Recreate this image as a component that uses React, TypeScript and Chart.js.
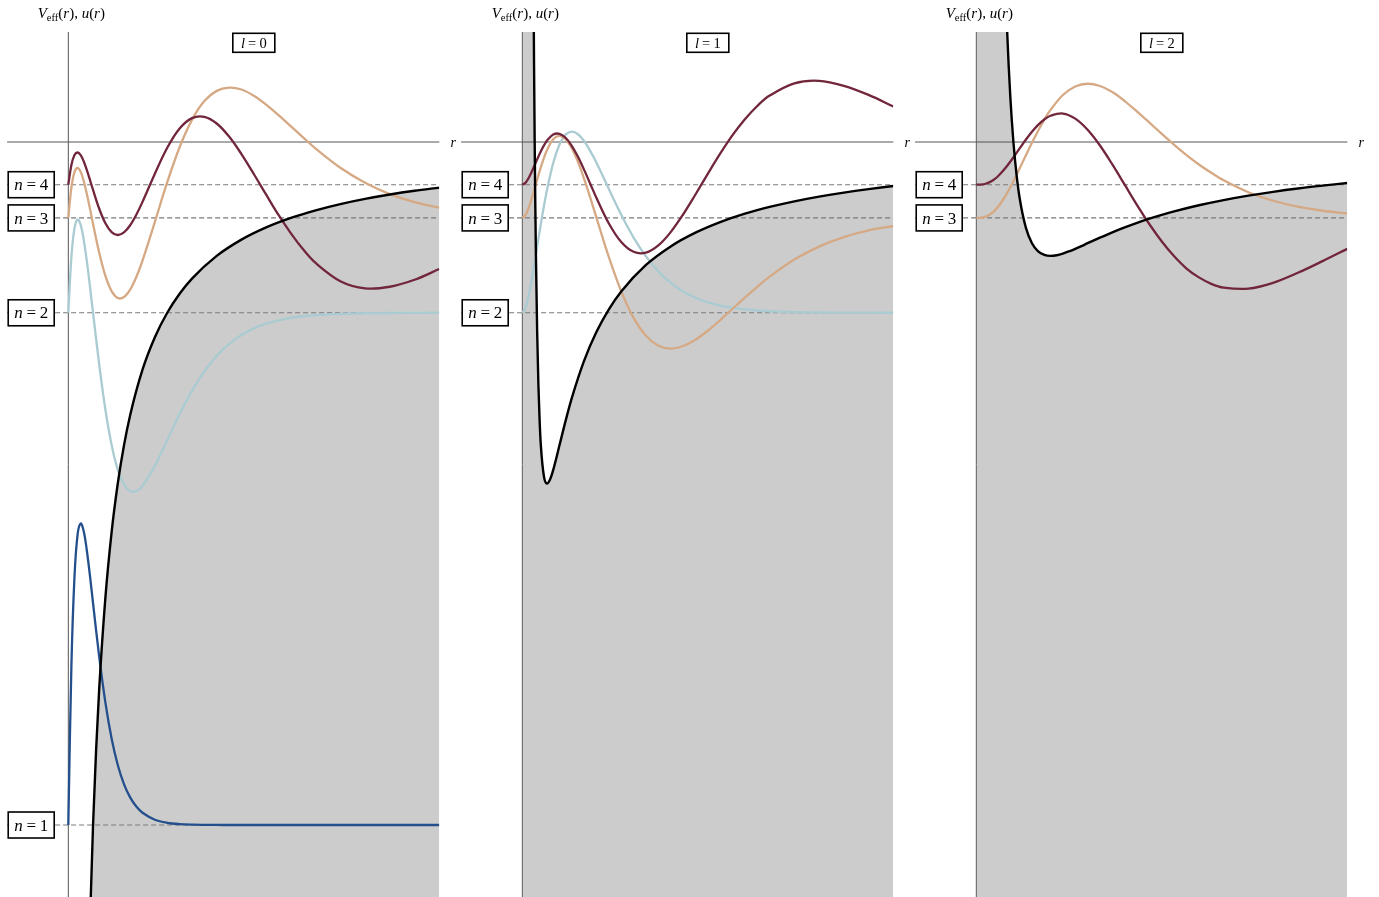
import React, { useEffect, useRef } from 'react';
import { Chart, registerables } from 'chart.js';

Chart.register(...registerables);

// ---------- data ----------
// radial positions (Bohr radii) shared by the wavefunction curves
const rGrid = [0, 0.25, 0.5, 0.75, 1, 1.25, 1.5, 1.75, 2, 2.5, 3, 3.5, 4, 4.5, 5, 5.5, 6, 7, 8, 9, 10, 11, 12, 13, 14, 15, 16, 17, 18, 19, 20, 22, 24, 26, 28, 30];

const levelN = [1, 2, 3, 4];
const levelE = [-1, -0.25, -0.1111, -0.0625];

// wavefunctions drawn on top of their energy level (l = 0)
const u10 = [-1, -0.7664, -0.6361, -0.5748, -0.5585, -0.5702, -0.5984, -0.635, -0.6753, -0.7537, -0.8207, -0.8732, -0.9121, -0.9401, -0.9596, -0.973, -0.9821, -0.9923, -0.9968, -0.9987, -0.9995, -0.9998, -0.9999, -1, -1, -1, -1, -1, -1, -1, -1, -1, -1, -1, -1, -1];
const u20 = [-0.25, -0.1681, -0.1261, -0.1133, -0.1213, -0.1435, -0.1748, -0.2113, -0.25, -0.326, -0.392, -0.4436, -0.4796, -0.5015, -0.5112, -0.5109, -0.5035, -0.4742, -0.4363, -0.3983, -0.3644, -0.3359, -0.3131, -0.2955, -0.2825, -0.2729, -0.2659, -0.261, -0.2575, -0.2551, -0.2535, -0.2516, -0.2507, -0.2503, -0.2501, -0.25];
const u30 = [-0.1111, -0.0666, -0.0441, -0.038, -0.0437, -0.0574, -0.0761, -0.0975, -0.1199, -0.1622, -0.1961, -0.2183, -0.2283, -0.227, -0.2161, -0.1976, -0.1736, -0.1169, -0.0588, -0.0076, 0.0324, 0.0599, 0.0749, 0.0797, 0.0769, 0.0679, 0.0548, 0.0393, 0.0229, 0.0066, -0.0096, -0.0377, -0.0597, -0.0763, -0.088, -0.0961];
const u40 = [-0.0625, -0.0336, -0.0191, -0.0153, -0.0193, -0.0285, -0.0411, -0.0553, -0.0701, -0.0977, -0.119, -0.1319, -0.1361, -0.1323, -0.1218, -0.1064, -0.0876, -0.0463, -0.0084, 0.0198, 0.035, 0.0369, 0.0271, 0.008, -0.0176, -0.0468, -0.0771, -0.1068, -0.1337, -0.1574, -0.1771, -0.2037, -0.2143, -0.2119, -0.2017, -0.186];
// l = 1
const u21 = [-0.25, -0.2432, -0.2262, -0.2027, -0.1757, -0.1476, -0.1198, -0.0936, -0.0698, -0.0307, -0.0041, 0.0108, 0.0151, 0.0114, 0.0014, -0.0133, -0.0304, -0.0688, -0.1066, -0.1399, -0.1675, -0.1894, -0.2063, -0.219, -0.2281, -0.2348, -0.2395, -0.2428, -0.2451, -0.2467, -0.2478, -0.249, -0.2496, -0.2498, -0.2499, -0.25];
const u31 = [-0.1111, -0.1071, -0.097, -0.0833, -0.0678, -0.0519, -0.0368, -0.0233, -0.0117, 0.0039, 0.0091, 0.0043, -0.0091, -0.0291, -0.054, -0.0819, -0.1111, -0.1686, -0.2187, -0.2575, -0.2838, -0.2984, -0.3024, -0.2986, -0.2894, -0.2762, -0.2607, -0.2441, -0.2277, -0.2121, -0.1971, -0.1721, -0.1531, -0.1392, -0.1295, -0.123];
const u41 = [-0.0625, -0.0598, -0.0531, -0.044, -0.0338, -0.0234, -0.0136, -0.005, 0.0021, 0.0109, 0.0121, 0.0063, -0.0055, -0.0217, -0.0408, -0.0614, -0.0819, -0.1192, -0.1463, -0.1607, -0.1619, -0.1514, -0.1319, -0.1061, -0.0768, -0.0465, -0.0171, 0.01, 0.0333, 0.0528, 0.068, 0.086, 0.0896, 0.0823, 0.069, 0.052];
// l = 2
const u32 = [-0.1111, -0.111, -0.1105, -0.1093, -0.1072, -0.1041, -0.1, -0.0949, -0.0889, -0.0744, -0.0574, -0.0389, -0.0198, -0.0011, 0.0166, 0.0328, 0.047, 0.0689, 0.0814, 0.0853, 0.082, 0.0732, 0.06, 0.0446, 0.0284, 0.012, -0.0041, -0.0191, -0.0329, -0.0451, -0.0561, -0.0736, -0.086, -0.0947, -0.1006, -0.1045];
const u42 = [-0.0625, -0.0624, -0.0621, -0.0611, -0.0595, -0.0571, -0.054, -0.0501, -0.0455, -0.0347, -0.0224, -0.0094, 0.0033, 0.015, 0.0251, 0.033, 0.0385, 0.0417, 0.0343, 0.018, -0.0051, -0.0328, -0.0625, -0.0923, -0.1204, -0.1456, -0.1673, -0.1852, -0.1982, -0.2076, -0.2132, -0.2147, -0.2062, -0.1915, -0.1744, -0.1564];

// effective potentials
const vR0 = [1.5, 1.75, 2, 2.25, 2.5, 3, 3.5, 4, 4.5, 5, 6, 7, 8, 9, 10, 12, 14, 16, 18, 20, 22, 24, 26, 28, 30];
const v0 = [-1.3333, -1.1429, -1, -0.8889, -0.8, -0.6667, -0.5714, -0.5, -0.4444, -0.4, -0.3333, -0.2857, -0.25, -0.2222, -0.2, -0.1667, -0.1429, -0.125, -0.1111, -0.1, -0.0909, -0.0833, -0.0769, -0.0714, -0.0667];
const vR1 = [0.05, 0.2, 0.4, 0.6, 0.8, 0.9, 0.95, 1, 1.05, 1.1, 1.2, 1.3, 1.4, 1.5, 1.75, 2, 2.25, 2.5, 3, 3.5, 4, 5, 6, 7, 8, 10, 12, 14, 16, 18, 20, 22, 24, 26, 28, 30];
const v1 = [760, 40, 7.5, 2.2222, 0.625, 0.2469, 0.1108, 0, -0.0907, -0.1653, -0.2778, -0.3551, -0.4082, -0.4444, -0.4898, -0.5, -0.4938, -0.48, -0.4444, -0.4082, -0.375, -0.32, -0.2778, -0.2449, -0.2188, -0.18, -0.1528, -0.1327, -0.1172, -0.1049, -0.095, -0.0868, -0.0799, -0.074, -0.0689, -0.0644];
const vR2 = [0.05, 0.5, 1, 1.5, 2, 2.25, 2.5, 2.75, 3, 3.25, 3.5, 4, 4.5, 5, 5.5, 6, 6.5, 7, 7.5, 8, 8.5, 9, 10, 11, 12, 13, 14, 15, 16, 18, 20, 22, 24, 26, 28, 30];
const v2 = [2360, 20, 4, 1.3333, 0.5, 0.2963, 0.16, 0.0661, 0, -0.0474, -0.0816, -0.125, -0.1481, -0.16, -0.1653, -0.1667, -0.1657, -0.1633, -0.16, -0.1563, -0.1523, -0.1481, -0.14, -0.1322, -0.125, -0.1183, -0.1122, -0.1067, -0.1016, -0.0926, -0.085, -0.0785, -0.0729, -0.068, -0.0638, -0.06];

// ---------- styling / layout ----------
const X_MIN = -4.95;
const X_MAX = 30;
const Y_MIN = -1.1054;
const Y_MAX = 0.1611;
const LABEL_X = -3;
const L_BOX_X = 15;

const COLORS: Record<number, string> = {
  1: '#234f8c',
  2: '#a9cbd1',
  3: '#d6a985',
  4: '#72263b',
};

const SERIF = '"Liberation Serif", "DejaVu Serif", serif';

type Part = { t: string; it?: boolean; sub?: boolean; gap?: number };

function setFont(ctx: CanvasRenderingContext2D, size: number, p: Part) {
  const s = p.sub ? size * 0.7 : size;
  ctx.font = `${p.it ? 'italic ' : ''}${s}px ${SERIF}`;
}
function partWidth(ctx: CanvasRenderingContext2D, size: number, p: Part) {
  setFont(ctx, size, p);
  return ctx.measureText(p.t).width + (p.gap || 0) * size;
}
function drawParts(ctx: CanvasRenderingContext2D, parts: Part[], cx: number, cy: number, size: number) {
  let w = 0;
  for (const p of parts) w += partWidth(ctx, size, p);
  let x = cx - w / 2;
  const base = cy + size * 0.33;
  ctx.textBaseline = 'alphabetic';
  ctx.textAlign = 'left';
  ctx.fillStyle = '#000';
  for (const p of parts) {
    setFont(ctx, size, p);
    ctx.fillText(p.t, x, p.sub ? base + size * 0.18 : base);
    x += partWidth(ctx, size, p);
  }
}
function eqParts(v: string, val: number): Part[] {
  return [
    { t: v, it: true, gap: 0.22 },
    { t: '=', gap: 0.22 },
    { t: String(val) },
  ];
}
function drawBox(ctx: CanvasRenderingContext2D, cx: number, cy: number, w: number, h: number) {
  ctx.fillStyle = '#fff';
  ctx.fillRect(cx - w / 2, cy - h / 2, w, h);
  ctx.strokeStyle = '#000';
  ctx.lineWidth = 1.6;
  ctx.strokeRect(cx - w / 2, cy - h / 2, w, h);
}

type Wave = { n: number; y: number[] };
type PanelCfg = { l: number; vR: number[]; v: number[]; waves: Wave[]; levels: number[] };

const panels: PanelCfg[] = [
  { l: 0, vR: vR0, v: v0, waves: [{ n: 1, y: u10 }, { n: 2, y: u20 }, { n: 3, y: u30 }, { n: 4, y: u40 }], levels: [1, 2, 3, 4] },
  { l: 1, vR: vR1, v: v1, waves: [{ n: 2, y: u21 }, { n: 3, y: u31 }, { n: 4, y: u41 }], levels: [2, 3, 4] },
  { l: 2, vR: vR2, v: v2, waves: [{ n: 3, y: u32 }, { n: 4, y: u42 }], levels: [3, 4] },
];

const CANVAS_W = 470;
const CANVAS_H = 897;
const PANEL_STEP = 453.85;

function Panel({ cfg, index }: { cfg: PanelCfg; index: number }) {
  const ref = useRef<HTMLCanvasElement>(null);
  useEffect(() => {
    const canvas = ref.current!;
    const datasets: any[] = [];
    // potential (top-most line, with grey fill under it)
    datasets.push({
      data: cfg.vR.map((r, i) => ({ x: r, y: cfg.v[i] })),
      borderColor: '#000',
      borderWidth: 2.4,
      backgroundColor: '#cccccc',
      fill: 'start',
      cubicInterpolationMode: 'monotone',
      pointRadius: 0,
    });
    // wavefunctions, highest n on top
    [...cfg.waves].reverse().forEach((w) => {
      datasets.push({
        data: rGrid.map((r, i) => ({ x: r, y: w.y[i] })),
        borderColor: COLORS[w.n],
        borderWidth: 2.3,
        fill: false,
        tension: 0.35,
        pointRadius: 0,
      });
    });
    // energy levels (dashed)
    cfg.levels.forEach((n) => {
      const e = levelE[levelN.indexOf(n)];
      datasets.push({
        data: [{ x: X_MIN, y: e }, { x: X_MAX, y: e }],
        borderColor: '#7a7a7a',
        borderWidth: 1.1,
        borderDash: [5, 3],
        fill: false,
        tension: 0,
        pointRadius: 0,
      });
    });

    const deco = {
      id: 'deco',
      beforeDatasetsDraw(chart: any) {
        const { ctx, chartArea: a, scales } = chart;
        const x0 = scales.x.getPixelForValue(0);
        const y0 = scales.y.getPixelForValue(0);
        ctx.save();
        ctx.strokeStyle = '#555';
        ctx.lineWidth = 1;
        ctx.beginPath();
        ctx.moveTo(x0, a.top);
        ctx.lineTo(x0, a.bottom);
        ctx.moveTo(a.left, y0);
        ctx.lineTo(a.right, y0);
        ctx.stroke();
        ctx.restore();
      },
      afterDatasetsDraw(chart: any) {
        const { ctx, chartArea: a, scales } = chart;
        const x0 = scales.x.getPixelForValue(0);
        const y0 = scales.y.getPixelForValue(0);
        ctx.save();
        // axis labels
        drawParts(ctx, [{ t: 'r', it: true }], a.right + 14, y0, 14);
        drawParts(
          ctx,
          [
            { t: 'V', it: true },
            { t: 'eff', sub: true },
            { t: '(' },
            { t: 'r', it: true },
            { t: '),', gap: 0.25 },
            { t: 'u', it: true },
            { t: '(' },
            { t: 'r', it: true },
            { t: ')' },
          ],
          x0 + 3,
          13,
          15
        );
        // l box
        const lx = scales.x.getPixelForValue(L_BOX_X);
        const ly = a.top + 10.8;
        drawBox(ctx, lx, ly, 42, 19);
        drawParts(ctx, eqParts('l', cfg.l), lx, ly, 14.5);
        // n boxes
        const nx = scales.x.getPixelForValue(LABEL_X);
        cfg.levels.forEach((n) => {
          const e = levelE[levelN.indexOf(n)];
          const ny = scales.y.getPixelForValue(e);
          drawBox(ctx, nx, ny, 46, 26);
          drawParts(ctx, eqParts('n', n), nx, ny, 17);
        });
        ctx.restore();
      },
    };

    const chart = new Chart(canvas, {
      type: 'line',
      data: { datasets },
      options: {
        animation: false,
        responsive: false,
        devicePixelRatio: 1,
        layout: { padding: { left: 7.1, right: CANVAS_W - 439.3, top: 32, bottom: 0 } },
        scales: {
          x: { type: 'linear', min: X_MIN, max: X_MAX, display: false },
          y: { type: 'linear', min: Y_MIN, max: Y_MAX, display: false },
        },
        elements: { line: { capBezierPoints: false }, point: { radius: 0 } },
        plugins: {
          legend: { display: false },
          tooltip: { enabled: false },
          filler: { drawTime: 'beforeDatasetsDraw' },
        } as any,
      },
      plugins: [deco],
    } as any);
    return () => chart.destroy();
  }, [cfg]);
  return (
    <canvas
      ref={ref}
      width={CANVAS_W}
      height={CANVAS_H}
      style={{ position: 'absolute', left: Math.round(index * PANEL_STEP), top: 0, width: CANVAS_W, height: CANVAS_H }}
    />
  );
}

export default function App() {
  return (
    <div style={{ position: 'absolute', left: 0, top: 0, width: 1379, height: 897, background: '#fff', overflow: 'hidden' }}>
      {panels.map((p, i) => (
        <Panel key={i} cfg={p} index={i} />
      ))}
    </div>
  );
}
